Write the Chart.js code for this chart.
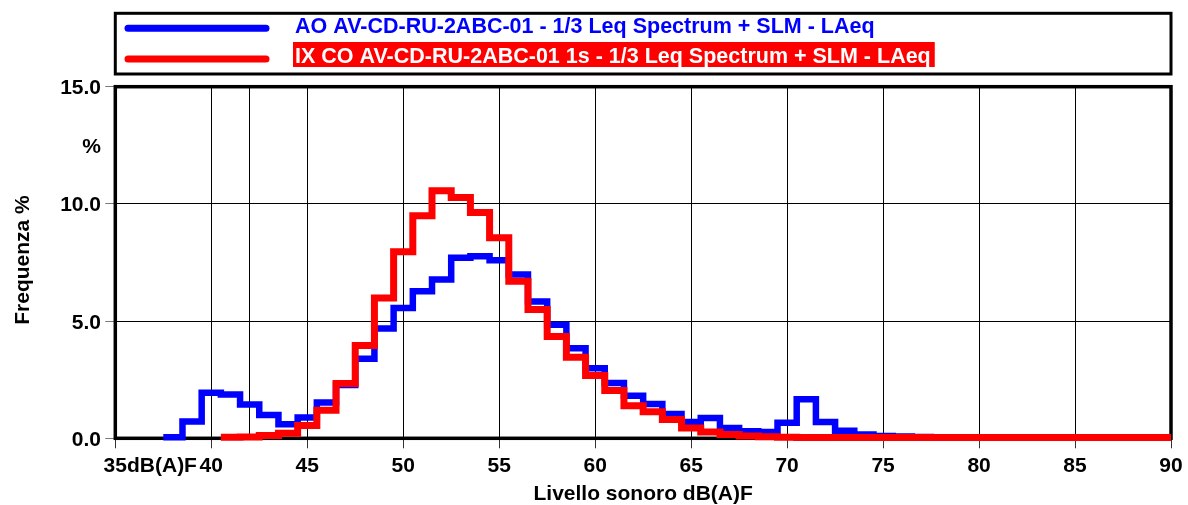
<!DOCTYPE html>
<html lang="it">
<head>
<meta charset="utf-8">
<title>Frequenza livelli sonori</title>
<script src="https://cdn.jsdelivr.net/npm/chart.js@4/dist/chart.umd.min.js"></script>
<style>
  html, body { margin: 0; padding: 0; background: #fff; }
  canvas { display: block; }
</style>
</head>
<body>
<canvas id="graficoLivelli" width="1188" height="505"></canvas>
<script>
// classi di 1 dB (valore centrale) e frequenza in % per ogni misura
const livelliAO = [38, 39, 40, 41, 42, 43, 44, 45, 46, 47, 48, 49, 50, 51, 52, 53, 54, 55, 56, 57,
  58, 59, 60, 61, 62, 63, 64, 65, 66, 67, 68, 69, 70, 71, 72, 73, 74, 75, 76, 77,
  78, 79, 80, 81, 82, 83, 84, 85, 86, 87, 88, 89, 90]
const frequenzaAO = [0.05, 0.72, 1.94, 1.87, 1.44, 0.99, 0.60, 0.89, 1.53, 2.27, 3.39, 4.68, 5.56, 6.27, 6.77, 7.70, 7.77, 7.60, 6.99, 5.84,
  4.84, 3.84, 2.99, 2.36, 1.81, 1.46, 1.04, 0.70, 0.87, 0.44, 0.30, 0.27, 0.66, 1.67, 0.70, 0.32, 0.16, 0.10, 0.08, 0.06,
  0.05, 0.05, 0.03, 0.03, 0.03, 0.03, 0.03, 0.03, 0.03, 0.03, 0.03, 0.03, 0.03]

const livelliIX = [41, 42, 43, 44, 45, 46, 47, 48, 49, 50, 51, 52, 53, 54, 55, 56, 57, 58, 59, 60,
  61, 62, 63, 64, 65, 66, 67, 68, 69, 70, 71, 72, 73, 74, 75, 76, 77, 78, 79, 80,
  81, 82, 83, 84, 85, 86, 87, 88, 89, 90]
const frequenzaIX = [0.05, 0.06, 0.12, 0.22, 0.55, 1.20, 2.34, 3.96, 5.99, 7.96, 9.49, 10.56, 10.27, 9.63, 8.56, 6.70, 5.49, 4.34, 3.46, 2.68,
  2.04, 1.39, 1.13, 0.80, 0.44, 0.27, 0.16, 0.10, 0.07, 0.05, 0.03, 0.03, 0.03, 0.03, 0.03, 0.03, 0.03, 0.03, 0.03, 0.03,
  0.03, 0.03, 0.03, 0.03, 0.03, 0.03, 0.03, 0.03, 0.03, 0.03]

const tickX = [35, 40, 45, 50, 55, 60, 65, 70, 75, 80, 85, 90]
const tickY = [0, 5, 10, 15]
const lineaExtra = 42

const etichettaAO = "AO AV-CD-RU-2ABC-01 - 1/3 Leq Spectrum + SLM - LAeq"
const etichettaIX = "IX CO AV-CD-RU-2ABC-01 1s - 1/3 Leq Spectrum + SLM - LAeq"
const titoloX = "Livello sonoro dB(A)F"
const titoloY = "Frequenza %"

const FONT = '"Liberation Sans", Arial, sans-serif'

// trasforma le classi in punti per la linea a gradini (bordo sinistro di ogni classe)
function puntiGradino(livelli, valori) {
  const punti = livelli.map((l, i) => ({ x: l - 0.5, y: valori[i] }))
  const ultimo = livelli.length - 1
  punti.push({ x: livelli[ultimo] + 0.5, y: valori[ultimo] })
  return punti
}

// cornice, etichette e legenda disegnate a mano
const decorazioni = {
  id: 'decorazioni',
  beforeDatasetsDraw(chart) {
    const { ctx, chartArea: a } = chart
    ctx.save()
    ctx.strokeStyle = '#000'
    ctx.lineWidth = 3.5
    ctx.strokeRect(a.left, a.top, a.right - a.left, a.bottom - a.top)
    ctx.restore()
  },
  afterDraw(chart) {
    const { ctx, chartArea: a } = chart
    const sx = chart.scales.x
    const sy = chart.scales.y
    ctx.save()
    ctx.fillStyle = '#000'
    ctx.font = 'bold 21px ' + FONT

    // etichette asse x
    ctx.textBaseline = 'alphabetic'
    tickX.forEach(v => {
      const x = sx.getPixelForValue(v)
      if (v === tickX[0]) {
        ctx.textAlign = 'left'
        ctx.fillText(v + 'dB(A)F', x - ctx.measureText(String(v)).width / 2, 472)
      } else {
        ctx.textAlign = 'center'
        ctx.fillText(String(v), x, 472)
      }
    })

    // etichette asse y
    ctx.textAlign = 'right'
    tickY.forEach(v => {
      ctx.fillText(v.toFixed(1), 101, sy.getPixelForValue(v) + 7.5)
    })
    ctx.fillText('%', 101, 153)

    // titoli
    ctx.textAlign = 'center'
    ctx.fillText(titoloX, (a.left + a.right) / 2, 500)
    ctx.save()
    ctx.translate(29, 260)
    ctx.rotate(-Math.PI / 2)
    ctx.fillText(titoloY, 0, 0)
    ctx.restore()

    // legenda
    ctx.strokeStyle = '#000'
    ctx.lineWidth = 3
    ctx.strokeRect(a.left, 13.3, a.right - a.left, 60.7)

    ctx.lineCap = 'round'
    ctx.lineWidth = 7
    const voci = [
      { testo: etichettaAO, colore: '#0000ff', y: 28.3, base: 33.3, sfondo: null },
      { testo: etichettaIX, colore: '#ff0000', y: 59, base: 63.3, sfondo: '#ff0000' }
    ]
    ctx.font = 'bold 21.5px ' + FONT
    ctx.textAlign = 'left'
    voci.forEach(v => {
      ctx.strokeStyle = v.colore
      ctx.beginPath()
      ctx.moveTo(128, v.y)
      ctx.lineTo(266, v.y)
      ctx.stroke()
      if (v.sfondo) {
        const w = ctx.measureText(v.testo).width
        ctx.fillStyle = v.sfondo
        ctx.fillRect(293, 42, w + 6, 25)
        ctx.fillStyle = '#fff'
      } else {
        ctx.fillStyle = v.colore
      }
      ctx.fillText(v.testo, 295, v.base)
    })
    ctx.restore()
  }
}

const grafico = new Chart(document.getElementById('graficoLivelli'), {
  type: 'line',
  data: {
    datasets: [
      {
        label: etichettaAO,
        data: puntiGradino(livelliAO, frequenzaAO),
        borderColor: '#0000ff',
        borderWidth: 6.5,
        order: 1
      },
      {
        label: etichettaIX,
        data: puntiGradino(livelliIX, frequenzaIX),
        borderColor: '#ff0000',
        borderWidth: 7,
        order: 0
      }
    ]
  },
  options: {
    responsive: false,
    animation: false,
    devicePixelRatio: 1,
    layout: { autoPadding: false, padding: { left: 105.3, right: 17, top: 86.7, bottom: 56.7 } },
    elements: {
      point: { radius: 0 },
      line: { stepped: true, tension: 0, borderJoinStyle: 'miter', borderCapStyle: 'butt' }
    },
    datasets: {
      line: { clip: { left: 0, right: 0, top: 5, bottom: 5 } }
    },
    plugins: { legend: { display: false }, tooltip: { enabled: false } },
    scales: {
      x: {
        type: 'linear',
        min: 35,
        max: 90,
        afterBuildTicks: scale => {
          scale.ticks = [...tickX, lineaExtra].map(v => ({ value: v }))
        },
        ticks: { display: false },
        border: { display: false },
        grid: {
          color: '#000',
          lineWidth: 1,
          tickLength: 10,
          tickColor: c => (c.tick && c.tick.value === lineaExtra ? 'rgba(0,0,0,0)' : '#333')
        }
      },
      y: {
        min: 0,
        max: 15,
        afterBuildTicks: scale => {
          scale.ticks = tickY.map(v => ({ value: v }))
        },
        ticks: { display: false },
        border: { display: false },
        grid: { color: '#000', lineWidth: 1, tickLength: 10, tickColor: '#777' }
      }
    }
  },
  plugins: [decorazioni]
})
</script>
</body>
</html>
